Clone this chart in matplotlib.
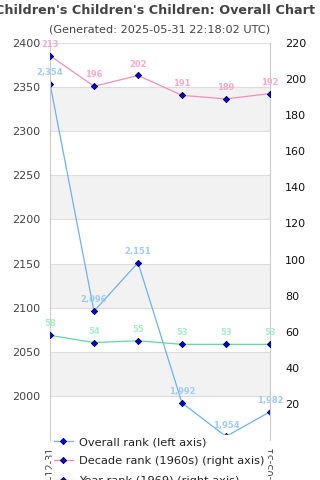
import matplotlib
matplotlib.use("Agg")
import matplotlib.pyplot as plt

dates = ["2020-12-31", "2021-12-31", "2022-12-31", "2023-12-31", "2024-12-31", "2025-05-31"]
overall_rank = [2354, 2096, 2151, 1992, 1954, 1982]
decade_rank = [213, 196, 202, 191, 189, 192]
year_rank = [58, 54, 55, 53, 53, 53]

title = "Children's Children's Children: Overall Chart"
subtitle = "(Generated: 2025-05-31 22:18:02 UTC)"
legend_labels = ["Overall rank (left axis)", "Decade rank (1960s) (right axis)", "Year rank (1969) (right axis)"]

blue_line, blue_lab = "#6fb1f5", "#9fcbf5"
pink_line, pink_lab = "#f28dbd", "#f7aacd"
green_line, green_lab = "#5edc9c", "#a6eec9"

fig = plt.figure(figsize=(3.2, 4.8), dpi=100)
ax = fig.add_axes([50/320, 1-440/480, 220/320, 397/480])
ax2 = ax.twinx()

x = list(range(len(dates)))
ax.set_xlim(0, len(dates)-1)
ax.set_ylim(1950, 2400)
ax2.set_ylim(0, 220)

# bands
for lo in [2300, 2200, 2100, 2000]:
    ax.axhspan(lo, lo+50, color="#f2f2f2", zorder=0, lw=0)
ax.set_yticks(range(2000, 2401, 50))
ax.yaxis.grid(True, color="#dddddd", lw=0.8)
ax.set_axisbelow(True)
ax2.set_yticks(range(20, 221, 20))

for a in (ax, ax2):
    for s in a.spines.values():
        s.set_visible(False)
    a.tick_params(length=0)
ax2.spines["left"].set_visible(True)
ax2.spines["right"].set_visible(True)
ax2.spines["left"].set_color("#cccccc")
ax2.spines["right"].set_color("#cccccc")

ax.tick_params(axis="y", labelsize=8, labelcolor="#444444", pad=7)
ax2.tick_params(axis="y", labelsize=8, labelcolor="#111111", pad=11)

# only the first and last date labels are visible (the others sit under the legend)
shown = [d if i in (0, len(dates)-1) else "" for i, d in enumerate(dates)]
ax.set_xticks(x)
ax.set_xticklabels(shown, rotation=90, fontsize=7, color="#444444")
ax.tick_params(axis="x", pad=5)

mk = dict(marker="D", markersize=3.2, markerfacecolor="#0000ee", markeredgecolor="#000033", markeredgewidth=0.6)
l1, = ax.plot(x, overall_rank, color=blue_line, lw=0.9, zorder=3, **mk)
l2, = ax2.plot(x, decade_rank, color=pink_line, lw=0.9, zorder=3, **mk)
l3, = ax2.plot(x, year_rank, color=green_line, lw=0.9, zorder=3, **mk)

lab = dict(textcoords="offset points", ha="center", va="bottom", fontsize=6, fontweight="bold")
for xi, v in zip(x, overall_rank):
    ax.annotate(f"{v:,}", (xi, v), xytext=(0, 5), color=blue_lab, **lab)
for xi, v in zip(x, decade_rank):
    ax2.annotate(f"{v}", (xi, v), xytext=(0, 5), color=pink_lab, **lab)
for xi, v in zip(x, year_rank):
    ax2.annotate(f"{v}", (xi, v), xytext=(0, 5), color=green_lab, **lab)

fig.text(155/320, 1-10/480, title, ha="center", va="center", fontsize=9.2, fontweight="bold", color="#444444")
fig.text(0.5, 1-30/480, subtitle, ha="center", va="center", fontsize=8.1, color="#444444")

leg = fig.legend([l1, l2, l3], legend_labels, loc="upper left", bbox_to_anchor=(52/320, 1-435/480),
                 frameon=True, fontsize=8.2, handlelength=1.6, handletextpad=0.6, labelspacing=0.8,
                 borderpad=0.2, borderaxespad=0)
leg.get_frame().set_facecolor("white")
leg.get_frame().set_edgecolor("white")
leg.get_frame().set_alpha(1)
leg.set_zorder(10)
for t in leg.get_texts():
    t.set_color("#222222")

fig.savefig("out.png", dpi=100)
